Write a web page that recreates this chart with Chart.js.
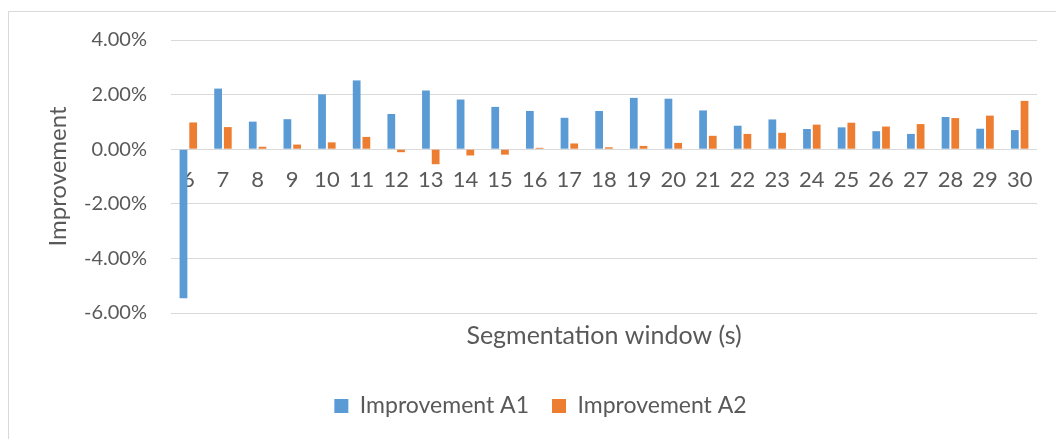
<!DOCTYPE html>
<html>
<head>
<meta charset="utf-8">
<script src="https://cdn.jsdelivr.net/npm/chart.js@4.4.1/dist/chart.umd.min.js"></script>
<style>
  html, body { margin: 0; padding: 0; background: #fff; overflow: hidden; }
  #wrap { position: relative; width: 1056px; height: 439px; }
  #frame { position: absolute; left: 8px; top: 11px; width: 1100px; height: 500px;
           border: 1px solid #d9d9d9; pointer-events: none; }
</style>
</head>
<body>
<div id="wrap">
  <canvas id="chart"></canvas>
  <div id="frame"></div>
</div>
<script>
// segmentation window lengths (s)
const windows = ['6', '7', '8', '9', '10', '11', '12', '13', '14', '15', '16', '17', '18',
                 '19', '20', '21', '22', '23', '24', '25', '26', '27', '28', '29', '30'];

// improvement in percent
const improvementA1 = [-5.46, 2.22, 1.01, 1.10, 2.01, 2.52, 1.29, 2.15, 1.82, 1.55, 1.40, 1.15, 1.40,
                       1.88, 1.85, 1.42, 0.86, 1.09, 0.74, 0.80, 0.66, 0.56, 1.18, 0.75, 0.70];
const improvementA2 = [0.98, 0.81, 0.09, 0.17, 0.25, 0.45, -0.11, -0.55, -0.23, -0.20, 0.05, 0.21, 0.07,
                       0.12, 0.23, 0.49, 0.56, 0.60, 0.90, 0.97, 0.83, 0.92, 1.14, 1.23, 1.77];

const textColor = '#595959';
const fontFamily = 'Lato, "Liberation Sans", sans-serif';

const ctx = document.getElementById('chart').getContext('2d');

new Chart(ctx, {
    type: 'bar',
    data: {
        labels: windows,
        datasets: [
            {
                label: 'Improvement A1',
                data: improvementA1,
                backgroundColor: '#5B9BD5',
                categoryPercentage: 0.56,
                barPercentage: 0.8
            },
            {
                label: 'Improvement A2',
                data: improvementA2,
                backgroundColor: '#ED7D31',
                categoryPercentage: 0.56,
                barPercentage: 0.8
            }
        ]
    },
    options: {
        responsive: true,
        maintainAspectRatio: false,
        animation: false,
        layout: {
            padding: { left: 44, top: 40, right: 19, bottom: 11.5 }
        },
        plugins: {
            tooltip: { enabled: false },
            legend: {
                position: 'bottom',
                labels: {
                    color: textColor,
                    boxWidth: 14,
                    boxHeight: 14,
                    padding: 23,
                    font: { family: fontFamily, size: 23 }
                }
            }
        },
        scales: {
            x: {
                offset: true,
                grid: { display: false, drawTicks: false },
                border: { display: false },
                ticks: { display: false },
                title: {
                    display: true,
                    text: 'Segmentation window (s)',
                    color: textColor,
                    font: { family: fontFamily, size: 25 },
                    padding: { top: 8, bottom: 20.5 }
                }
            },
            // category labels sit on the zero line, like the original
            x2: {
                type: 'category',
                position: { y: 0 },
                offset: true,
                grid: { display: false, drawTicks: false },
                border: { display: false },
                ticks: {
                    color: textColor,
                    autoSkip: false,
                    maxRotation: 0,
                    padding: 18,
                    font: { family: fontFamily, size: 22 }
                }
            },
            y: {
                min: -6,
                max: 4,
                grid: { color: '#d9d9d9', lineWidth: 1, drawTicks: false },
                border: { display: false },
                ticks: {
                    stepSize: 2,
                    color: textColor,
                    padding: 24,
                    font: { family: fontFamily, size: 20 },
                    callback: function (v) { return v.toFixed(2) + '%'; }
                },
                title: {
                    display: true,
                    text: 'Improvement',
                    color: textColor,
                    font: { family: fontFamily, size: 24 },
                    padding: { top: 0, bottom: 0 }
                },
                afterFit: function (scale) {
                    scale.width = 127;
                }
            }
        }
    }
});
</script>
</body>
</html>
